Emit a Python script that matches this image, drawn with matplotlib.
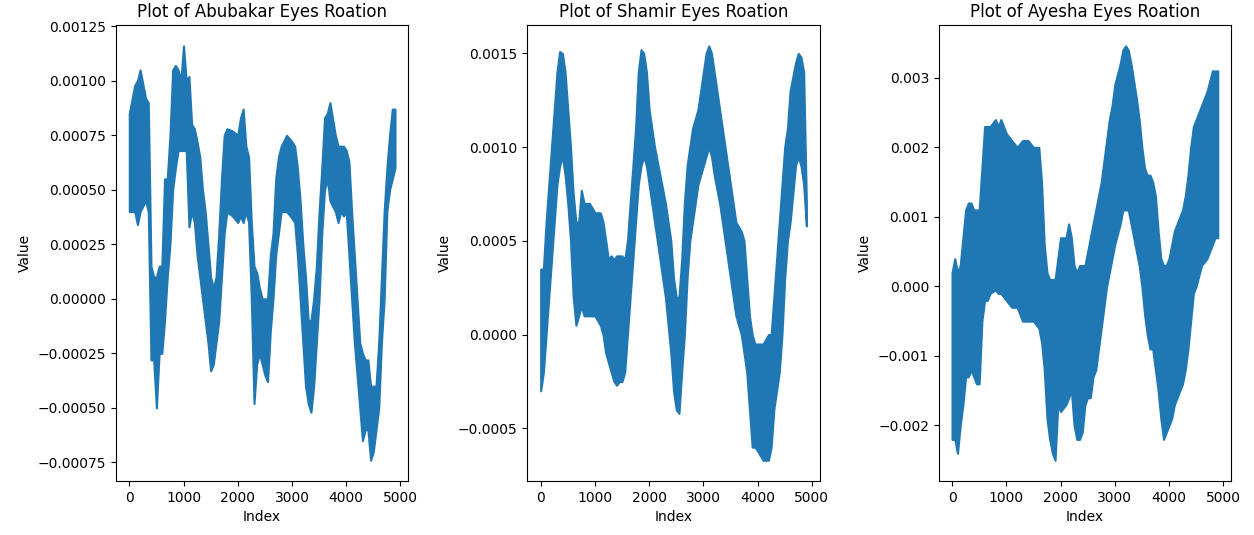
import matplotlib
matplotlib.use("Agg")
import matplotlib.pyplot as plt

# Envelope of each signal (index, upper, lower)
names = ["Abubakar", "Shamir", "Ayesha"]

abu_idx = [0, 100, 150, 200, 300, 350, 400, 450, 500, 550, 600, 650, 700, 750, 800, 850, 900, 950,
           1000, 1050, 1100, 1150, 1200, 1250, 1300, 1350, 1400, 1450, 1500, 1550, 1600, 1650, 1700,
           1750, 1800, 1900, 2000, 2050, 2100, 2150, 2200, 2250, 2300, 2350, 2400, 2450, 2500, 2550,
           2600, 2650, 2700, 2750, 2800, 2900, 3000, 3050, 3100, 3150, 3200, 3250, 3300, 3350, 3400,
           3450, 3500, 3550, 3600, 3650, 3700, 3800, 3850, 3900, 3950, 4000, 4050, 4100, 4150, 4200,
           4250, 4300, 4350, 4400, 4450, 4500, 4550, 4600, 4650, 4700, 4750, 4800, 4850, 4900]
abu_hi = [0.00085, 0.00098, 0.00100, 0.00105, 0.00092, 0.00090, 0.00015, 0.00010, 0.00010, 0.00015,
          0.00015, 0.00055, 0.00055, 0.00075, 0.00105, 0.00107, 0.00105, 0.00100, 0.00116, 0.00100,
          0.00102, 0.00080, 0.00078, 0.00072, 0.00065, 0.00050, 0.00040, 0.00025, 0.00010, 0.00005,
          0.00010, 0.00030, 0.00055, 0.00075, 0.00078, 0.00077, 0.00075, 0.00083, 0.00087, 0.00070,
          0.00065, 0.00035, 0.00015, 0.00012, 0.00005, 0.00000, 0.00000, 0.00000, 0.00020, 0.00030,
          0.00055, 0.00065, 0.00070, 0.00075, 0.00072, 0.00070, 0.00060, 0.00045, 0.00025, 0.00010,
          -0.00010, -0.00010, 0.00000, 0.00015, 0.00040, 0.00060, 0.00083, 0.00085, 0.00090, 0.00075,
          0.00070, 0.00070, 0.00070, 0.00068, 0.00063, 0.00040, 0.00020, 0.00000, -0.00020, -0.00025,
          -0.00028, -0.00028, -0.00040, -0.00040, -0.00040, -0.00020, 0.00010, 0.00040, 0.00060,
          0.00075, 0.00087, 0.00087]
abu_lo = [0.00040, 0.00040, 0.00034, 0.00040, 0.00045, 0.00040, -0.00028, -0.00028, -0.00050, -0.00025,
          -0.00025, -0.00010, 0.00010, 0.00025, 0.00050, 0.00060, 0.00068, 0.00068, 0.00068, 0.00068,
          0.00033, 0.00040, 0.00035, 0.00020, 0.00010, 0.00000, -0.00010, -0.00020, -0.00033, -0.00030,
          -0.00020, -0.00010, 0.00010, 0.00030, 0.00040, 0.00038, 0.00035, 0.00038, 0.00035, 0.00040,
          0.00035, 0.00000, -0.00048, -0.00030, -0.00025, -0.00030, -0.00035, -0.00038, -0.00015, 0.00000,
          0.00020, 0.00030, 0.00040, 0.00040, 0.00037, 0.00035, 0.00020, 0.00000, -0.00020, -0.00040,
          -0.00048, -0.00052, -0.00040, -0.00020, 0.00000, 0.00030, 0.00050, 0.00055, 0.00045, 0.00040,
          0.00035, 0.00040, 0.00038, 0.00040, 0.00020, 0.00000, -0.00020, -0.00035, -0.00050, -0.00065,
          -0.00060, -0.00060, -0.00074, -0.00070, -0.00060, -0.00050, -0.00020, 0.00000, 0.00040,
          0.00050, 0.00055, 0.00060]

sha_idx = [0, 50, 100, 150, 200, 250, 300, 350, 400, 450, 500, 550, 600, 650, 700, 750, 800, 900,
           1000, 1100, 1150, 1200, 1250, 1300, 1350, 1400, 1450, 1500, 1550, 1600, 1650, 1700, 1750,
           1800, 1850, 1900, 1950, 2000, 2100, 2200, 2300, 2400, 2450, 2500, 2550, 2600, 2650, 2700,
           2750, 2800, 2900, 3000, 3050, 3100, 3150, 3200, 3300, 3400, 3500, 3600, 3700, 3750, 3800,
           3850, 3900, 3950, 4000, 4100, 4200, 4250, 4300, 4350, 4400, 4450, 4500, 4550, 4600, 4700,
           4750, 4800, 4850, 4900]
sha_hi = [0.00035, 0.00035, 0.00060, 0.00080, 0.00100, 0.00120, 0.00140, 0.00151, 0.00150, 0.00140,
          0.00120, 0.00100, 0.00075, 0.00060, 0.00060, 0.00077, 0.00070, 0.00070, 0.00065, 0.00065,
          0.00060, 0.00050, 0.00040, 0.00042, 0.00040, 0.00042, 0.00042, 0.00042, 0.00040, 0.00050,
          0.00070, 0.00090, 0.00110, 0.00140, 0.00152, 0.00150, 0.00140, 0.00120, 0.00100, 0.00085,
          0.00070, 0.00050, 0.00030, 0.00020, 0.00020, 0.00040, 0.00070, 0.00090, 0.00100, 0.00110,
          0.00120, 0.00140, 0.00150, 0.00154, 0.00150, 0.00140, 0.00120, 0.00100, 0.00080, 0.00060,
          0.00055, 0.00050, 0.00030, 0.00010, 0.00000, -0.00005, -0.00005, -0.00005, 0.00000, 0.00000,
          0.00020, 0.00040, 0.00060, 0.00080, 0.00100, 0.00110, 0.00130, 0.00145, 0.00150, 0.00148,
          0.00140, 0.00070]
sha_lo = [-0.00030, -0.00020, 0.00000, 0.00020, 0.00040, 0.00060, 0.00080, 0.00090, 0.00095, 0.00085,
          0.00070, 0.00050, 0.00020, 0.00005, 0.00010, 0.00015, 0.00010, 0.00010, 0.00010, 0.00005,
          0.00000, -0.00010, -0.00015, -0.00020, -0.00025, -0.00027, -0.00025, -0.00025, -0.00020, 0.00000,
          0.00020, 0.00040, 0.00060, 0.00080, 0.00090, 0.00095, 0.00090, 0.00080, 0.00060, 0.00040,
          0.00020, -0.00010, -0.00030, -0.00040, -0.00042, -0.00020, 0.00000, 0.00030, 0.00050, 0.00060,
          0.00080, 0.00090, 0.00095, 0.00100, 0.00095, 0.00085, 0.00070, 0.00050, 0.00030, 0.00010,
          0.00000, -0.00010, -0.00020, -0.00040, -0.00060, -0.00060, -0.00062, -0.00067, -0.00067, -0.00060,
          -0.00040, -0.00030, -0.00020, 0.00000, 0.00030, 0.00050, 0.00060, 0.00090, 0.00095, 0.00090,
          0.00080, 0.00058]

aye_idx = [0, 50, 100, 150, 200, 250, 300, 350, 400, 450, 500, 550, 600, 650, 700, 800, 850, 900,
           1000, 1100, 1200, 1300, 1400, 1500, 1600, 1650, 1700, 1750, 1800, 1850, 1900, 1950, 2000,
           2100, 2150, 2200, 2250, 2300, 2350, 2400, 2450, 2500, 2550, 2600, 2650, 2700, 2750, 2800,
           2850, 2900, 2950, 3000, 3100, 3150, 3200, 3250, 3300, 3400, 3450, 3500, 3550, 3600, 3650,
           3700, 3750, 3800, 3850, 3900, 3950, 4000, 4050, 4100, 4150, 4200, 4250, 4300, 4350, 4400,
           4450, 4500, 4600, 4700, 4800, 4850, 4900]
aye_hi = [0.0002, 0.0004, 0.0002, 0.0003, 0.0007, 0.0011, 0.0012, 0.0012, 0.0011, 0.0011,
          0.0011, 0.0017, 0.0023, 0.0023, 0.0023, 0.0024, 0.0023, 0.0024, 0.0022, 0.0021,
          0.0020, 0.0021, 0.0021, 0.0020, 0.0020, 0.0015, 0.0006, 0.0002, 0.0001, 0.0001,
          0.0001, 0.0004, 0.0007, 0.0007, 0.0009, 0.0007, 0.0003, 0.0002, 0.0003, 0.0003,
          0.0003, 0.0005, 0.0007, 0.0009, 0.0011, 0.0013, 0.0015, 0.0018, 0.0021, 0.0024,
          0.0026, 0.0029, 0.0032, 0.0034, 0.00346, 0.0034, 0.0032, 0.0027, 0.0024, 0.0020,
          0.0017, 0.0016, 0.0016, 0.0015, 0.0013, 0.0008, 0.0004, 0.0003, 0.0003, 0.0004,
          0.0006, 0.0008, 0.0009, 0.0010, 0.0011, 0.0013, 0.0016, 0.0020, 0.0023, 0.0024,
          0.0026, 0.0028, 0.0031, 0.0031, 0.0031]
aye_lo = [-0.0022, -0.0022, -0.0024, -0.0020, -0.0017, -0.0013, -0.0013, -0.0012, -0.0013, -0.0014,
          -0.0014, -0.0005, -0.0002, -0.0002, -0.0001, -0.00005, -0.0001, -0.0001, -0.0002, -0.0003,
          -0.0003, -0.0005, -0.0005, -0.0005, -0.0006, -0.0008, -0.0012, -0.0019, -0.0022, -0.0024,
          -0.0025, -0.0017, -0.0018, -0.0017, -0.0016, -0.0015, -0.0020, -0.0022, -0.0022, -0.0021,
          -0.0017, -0.0016, -0.0016, -0.0013, -0.0012, -0.0009, -0.0006, -0.0003, 0.0000, 0.0002,
          0.0004, 0.0006, 0.0009, 0.0011, 0.0011, 0.0011, 0.0009, 0.0005, 0.0003, 0.0000,
          -0.0004, -0.0007, -0.0009, -0.0009, -0.0012, -0.0015, -0.0019, -0.0022, -0.0021, -0.0020,
          -0.0019, -0.0017, -0.0016, -0.0015, -0.0014, -0.0012, -0.0009, -0.0005, -0.0001, 0.0000,
          0.0003, 0.0004, 0.0006, 0.0007, 0.0007]

series = [(abu_idx, abu_hi, abu_lo), (sha_idx, sha_hi, sha_lo), (aye_idx, aye_hi, aye_lo)]

fig, axes = plt.subplots(1, 3, figsize=(12.54, 5.35), dpi=100)
plt.subplots_adjust(left=0.0925, right=0.9817, top=0.953, bottom=0.101, wspace=0.4075)

for ax, name, (idx, hi, lo) in zip(axes, names, series):
    ax.fill_between(idx, lo, hi, color='#1f77b4', edgecolor='#1f77b4', linewidth=1.5)
    ax.set_title(f'Plot of {name} Eyes Roation')
    ax.set_xlabel('Index')
    ax.set_ylabel('Value')
    ax.set_xticks([0, 1000, 2000, 3000, 4000, 5000])

axes[2].set_yticks([-0.002, -0.001, 0.0, 0.001, 0.002, 0.003])

plt.savefig('out.png', dpi=100)
